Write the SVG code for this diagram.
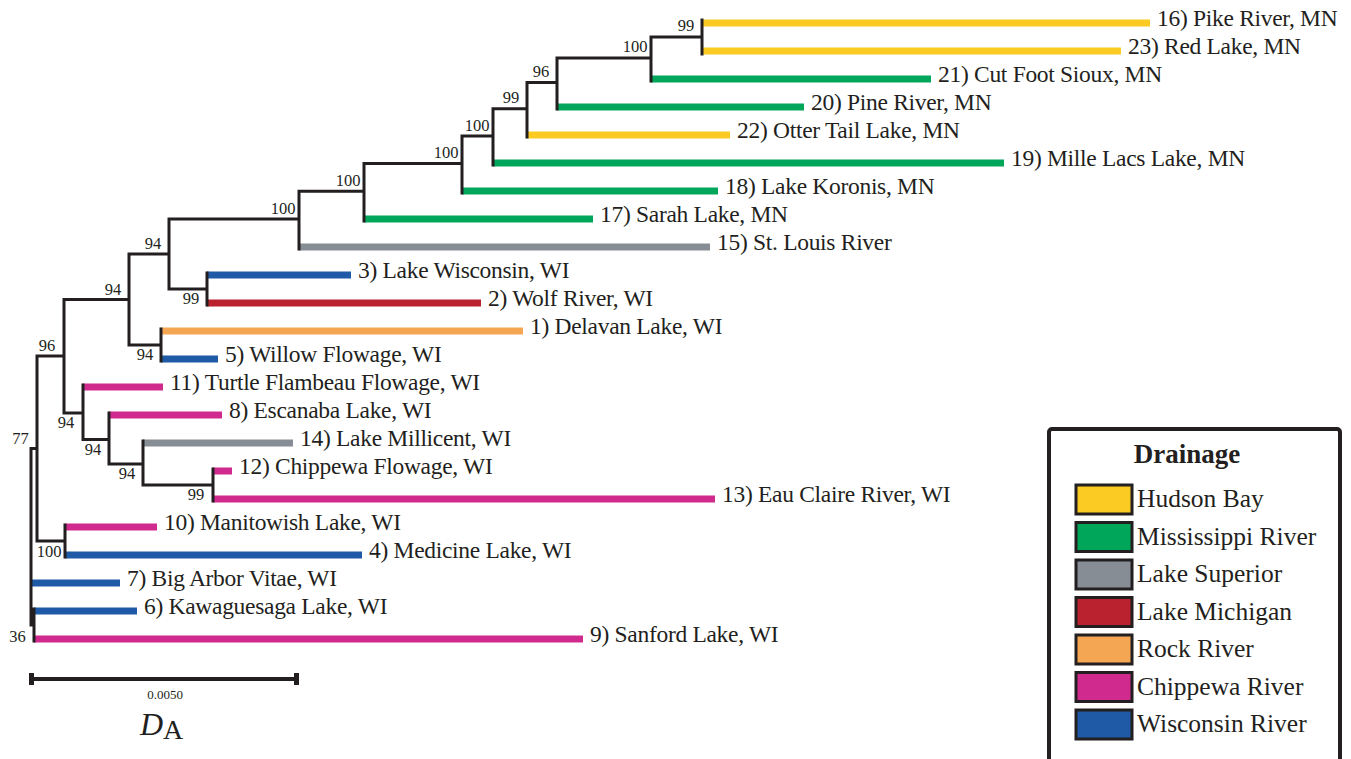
<svg xmlns="http://www.w3.org/2000/svg" width="1351" height="759" viewBox="0 0 1351 759">
<style>
.t{font-family:"Liberation Serif","Times New Roman",serif;font-size:23.5px;letter-spacing:-0.3px;fill:#231F20}
.b{font-family:"Liberation Serif","Times New Roman",serif;font-size:16.5px;fill:#231F20;text-anchor:middle}
.lg{font-family:"Liberation Serif","Times New Roman",serif;font-size:25.5px;fill:#231F20}
.tree{stroke:#231F20;stroke-width:3;fill:none;stroke-linecap:square}
.Y{fill:#FCCB23}.G{fill:#00A65A}.S{fill:#878D94}.R{fill:#BA222F}.O{fill:#F4A652}.M{fill:#D12A8F}.B{fill:#1F5AA6}
.sw{stroke:#231F20;stroke-width:3}
</style>
<rect width="1351" height="759" fill="#ffffff"/>
<g id="connectors">
<rect class="Y" x="702" y="19.5" width="448" height="7"/>
<rect class="Y" x="702" y="47.5" width="419" height="7"/>
<rect class="G" x="651" y="75.5" width="280" height="7"/>
<rect class="G" x="557" y="103.5" width="247" height="7"/>
<rect class="Y" x="527" y="131.5" width="203" height="7"/>
<rect class="G" x="493" y="159.5" width="511" height="7"/>
<rect class="G" x="462" y="187.5" width="256" height="7"/>
<rect class="G" x="364" y="215.5" width="229" height="7"/>
<rect class="S" x="299" y="243.5" width="411" height="7"/>
<rect class="B" x="207" y="271.5" width="144" height="7"/>
<rect class="R" x="207" y="299.5" width="274" height="7"/>
<rect class="O" x="161" y="327.5" width="362" height="7"/>
<rect class="B" x="161" y="355.5" width="57" height="7"/>
<rect class="M" x="83" y="383.5" width="80" height="7"/>
<rect class="M" x="109" y="411.5" width="113" height="7"/>
<rect class="S" x="143" y="439.5" width="150" height="7"/>
<rect class="M" x="213" y="467.5" width="19" height="7"/>
<rect class="M" x="213" y="495.5" width="502" height="7"/>
<rect class="M" x="65" y="523.5" width="92" height="7"/>
<rect class="B" x="65" y="551.5" width="297" height="7"/>
<rect class="B" x="31" y="579.5" width="89" height="7"/>
<rect class="B" x="34" y="607.5" width="103" height="7"/>
<rect class="M" x="34" y="635.5" width="549" height="7"/>
<path class="tree" d="M702 20V54 M651 37H702 M651 37V81 M557 58H651 M557 58V109 M527 82.5H557 M527 82.5V137 M493 108.75H527 M493 108.75V165 M462 135.9H493 M462 135.9V193 M364 163.4H462 M364 163.4V221 M299 191.2H364 M299 191.2V249 M169 219.1H299 M169 219.1V289 M169 289H207 M207 273V305 M129 254H169 M129 254V345 M129 345H161 M161 329V361 M64 299.5H129 M64 299.5V413 M64 413H83 M83 385V439.5 M83 439.5H109 M109 413V464 M109 464H143 M143 441V485 M143 485H213 M213 469V501 M37 356H64 M37 356V541 M37 541H65 M65 525V557 M31 448.5H37 M31 448.5V625 M31 625H34 M34 609V641"/>
</g>
<g id="n16"><text class="t" x="1157" y="26">16) Pike River, MN</text></g>
<g id="n23"><text class="t" x="1128" y="54">23) Red Lake, MN</text></g>
<g id="n21"><text class="t" x="938" y="82">21) Cut Foot Sioux, MN</text></g>
<g id="n20"><text class="t" x="811" y="110">20) Pine River, MN</text></g>
<g id="n22"><text class="t" x="737" y="138">22) Otter Tail Lake, MN</text></g>
<g id="n19"><text class="t" x="1011" y="166">19) Mille Lacs Lake, MN</text></g>
<g id="n18"><text class="t" x="725" y="194">18) Lake Koronis, MN</text></g>
<g id="n17"><text class="t" x="600" y="222">17) Sarah Lake, MN</text></g>
<g id="n15"><text class="t" x="717" y="250">15) St. Louis River</text></g>
<g id="n3"><text class="t" x="358" y="278">3) Lake Wisconsin, WI</text></g>
<g id="n2"><text class="t" x="488" y="306">2) Wolf River, WI</text></g>
<g id="n1"><text class="t" x="530" y="334">1) Delavan Lake, WI</text></g>
<g id="n5"><text class="t" x="225" y="362">5) Willow Flowage, WI</text></g>
<g id="n11"><text class="t" x="170" y="390">11) Turtle Flambeau Flowage, WI</text></g>
<g id="n8"><text class="t" x="229" y="418">8) Escanaba Lake, WI</text></g>
<g id="n14"><text class="t" x="300" y="446">14) Lake Millicent, WI</text></g>
<g id="n12"><text class="t" x="239" y="474">12) Chippewa Flowage, WI</text></g>
<g id="n13"><text class="t" x="722" y="502">13) Eau Claire River, WI</text></g>
<g id="n10"><text class="t" x="164" y="530">10) Manitowish Lake, WI</text></g>
<g id="n4"><text class="t" x="369" y="558">4) Medicine Lake, WI</text></g>
<g id="n7"><text class="t" x="127" y="586">7) Big Arbor Vitae, WI</text></g>
<g id="n6"><text class="t" x="144" y="614">6) Kawaguesaga Lake, WI</text></g>
<g id="n9"><text class="t" x="590" y="642">9) Sanford Lake, WI</text></g>
<g id="bootA"><text class="b" x="686" y="31">99</text></g>
<g id="bootB"><text class="b" x="635" y="52">100</text></g>
<g id="bootC"><text class="b" x="541" y="77">96</text></g>
<g id="bootD"><text class="b" x="511" y="103">99</text></g>
<g id="bootE"><text class="b" x="477" y="130.5">100</text></g>
<g id="bootF"><text class="b" x="446" y="158">100</text></g>
<g id="bootG"><text class="b" x="348" y="186">100</text></g>
<g id="bootH"><text class="b" x="283" y="214">100</text></g>
<g id="bootJ"><text class="b" x="153" y="249">94</text></g>
<g id="bootL"><text class="b" x="113" y="294.5">94</text></g>
<g id="bootQ"><text class="b" x="47" y="351">96</text></g>
<g id="bootS"><text class="b" x="20.5" y="444">77</text></g>
<g id="bootI"><text class="b" x="191" y="304">99</text></g>
<g id="bootK"><text class="b" x="145" y="360">94</text></g>
<g id="bootP"><text class="b" x="66" y="428">94</text></g>
<g id="bootO"><text class="b" x="93" y="454.5">94</text></g>
<g id="bootN"><text class="b" x="127" y="479">94</text></g>
<g id="bootM"><text class="b" x="196" y="500">99</text></g>
<g id="bootR"><text class="b" x="49" y="556.5">100</text></g>
<g id="bootT"><text class="b" x="17.5" y="641.5">36</text></g>
<g id="scalebar">
<line x1="31" y1="679" x2="297" y2="679" stroke="#231F20" stroke-width="4"/>
<rect x="29" y="673" width="5" height="12" fill="#231F20"/>
<rect x="294" y="673" width="5" height="12" fill="#231F20"/>
<text x="165" y="699" font-family="Liberation Serif, serif" font-size="13" fill="#231F20" text-anchor="middle">0.0050</text>
<text x="140" y="735" font-family="Liberation Serif, serif" font-size="32" fill="#231F20"><tspan font-style="italic">D</tspan><tspan font-size="28" dy="4">A</tspan></text>
</g>
<g id="legend">
<rect x="1049" y="429" width="291" height="350" rx="3" fill="#ffffff" stroke="#231F20" stroke-width="4"/>
<text x="1187" y="463" font-family="Liberation Serif, serif" font-size="27" font-weight="bold" fill="#231F20" text-anchor="middle">Drainage</text>
<rect class="Y sw" x="1076" y="485" width="56" height="29"/>
<rect class="G sw" x="1076" y="522.5" width="56" height="29"/>
<rect class="S sw" x="1076" y="560" width="56" height="29"/>
<rect class="R sw" x="1076" y="597.5" width="56" height="29"/>
<rect class="O sw" x="1076" y="635" width="56" height="29"/>
<rect class="M sw" x="1076" y="672.5" width="56" height="29"/>
<rect class="B sw" x="1076" y="710" width="56" height="29"/>
<text class="lg" x="1137" y="507">Hudson Bay</text>
<text class="lg" x="1137" y="544.5">Mississippi River</text>
<text class="lg" x="1137" y="582">Lake Superior</text>
<text class="lg" x="1137" y="619.5">Lake Michigan</text>
<text class="lg" x="1137" y="657">Rock River</text>
<text class="lg" x="1137" y="694.5">Chippewa River</text>
<text class="lg" x="1137" y="732">Wisconsin River</text>
</g>
</svg>
